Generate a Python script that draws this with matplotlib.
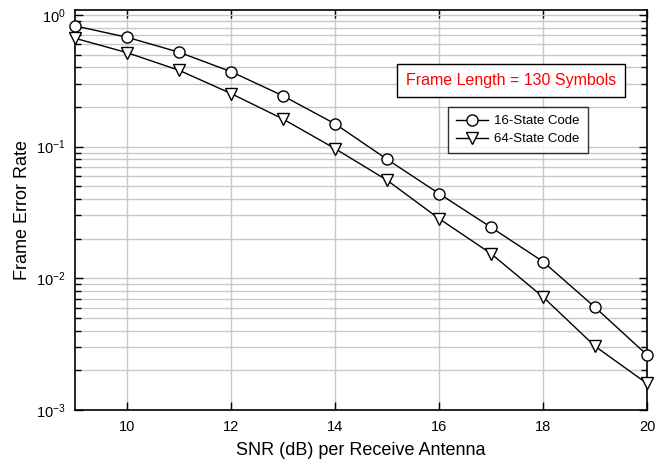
import numpy as np
import matplotlib
matplotlib.use("Agg")
import matplotlib.pyplot as plt
from matplotlib.ticker import LogLocator, FixedLocator

plt.rcParams["font.family"] = ["Liberation Sans", "DejaVu Sans"]
plt.rcParams["mathtext.fontset"] = "custom"
plt.rcParams["mathtext.rm"] = "Liberation Sans"

snr = [9, 10, 11, 12, 13, 14, 15, 16, 17, 18, 19, 20]
fer_16 = [0.825, 0.677, 0.521, 0.371, 0.243, 0.149, 0.0802, 0.044, 0.0244, 0.0134, 0.00603, 0.00262]
fer_64 = [0.665, 0.517, 0.38, 0.253, 0.162, 0.0966, 0.0556, 0.0284, 0.0154, 0.00722, 0.00305, 0.00159]
labels = ["16-State Code", "64-State Code"]
x_ticks = [10, 12, 14, 16, 18, 20]

fig = plt.figure(figsize=(6.55, 4.71), dpi=100)
ax = fig.add_axes([75 / 655, 1 - 410 / 471, (647 - 75) / 655, (410 - 10) / 471])

ax.semilogy(snr, fer_16, "-o", color="black", lw=1.0, ms=8, mfc="white", mec="black", mew=1.0,
            label=labels[0], zorder=3, clip_on=False)
ax.semilogy(snr, fer_64, "-v", color="black", lw=1.0, ms=8, mfc="white", mec="black", mew=1.0,
            label=labels[1], zorder=3, clip_on=False)

ax.set_xlim(9, 20)
ax.set_ylim(1e-3, 1.09)
ax.xaxis.set_major_locator(FixedLocator(x_ticks))
ax.yaxis.set_major_locator(LogLocator(base=10, numticks=10))
ax.yaxis.set_minor_locator(LogLocator(base=10, subs=np.arange(2, 10), numticks=10))
ax.yaxis.set_minor_formatter(plt.NullFormatter())

ax.grid(True, which="major", color="#c8c8c8", lw=1.0, zorder=0)
ax.grid(True, which="minor", axis="y", color="#c8c8c8", lw=1.0, zorder=0)
ax.set_axisbelow(True)

ax.tick_params(which="major", direction="in", length=6, width=1, top=True, right=True, labelsize=10.5, pad=7)
ax.tick_params(which="minor", direction="in", length=4, width=1, right=True)
for s in ax.spines.values():
    s.set_linewidth(1.2)

ax.set_xlabel("SNR (dB) per Receive Antenna", fontsize=13, labelpad=6)
ax.set_ylabel("Frame Error Rate", fontsize=13, labelpad=3)

ax.text(511 / 655, 1 - 80.5 / 471, "Frame Length = 130 Symbols", transform=fig.transFigure,
        color="red", fontsize=11.5, ha="center", va="center",
        bbox=dict(boxstyle="square,pad=0.55", fc="white", ec="black", lw=1.0))

leg = ax.legend(loc="upper left", bbox_to_anchor=((448 - 75) / 572, (410 - 107) / 400),
                fontsize=9.5, frameon=True, fancybox=False, edgecolor="black",
                handlelength=2.4, borderpad=0.6, labelspacing=0.45, handletextpad=0.5,
                borderaxespad=0)
leg.get_frame().set_linewidth(1.0)

fig.savefig("out.png", dpi=100)
